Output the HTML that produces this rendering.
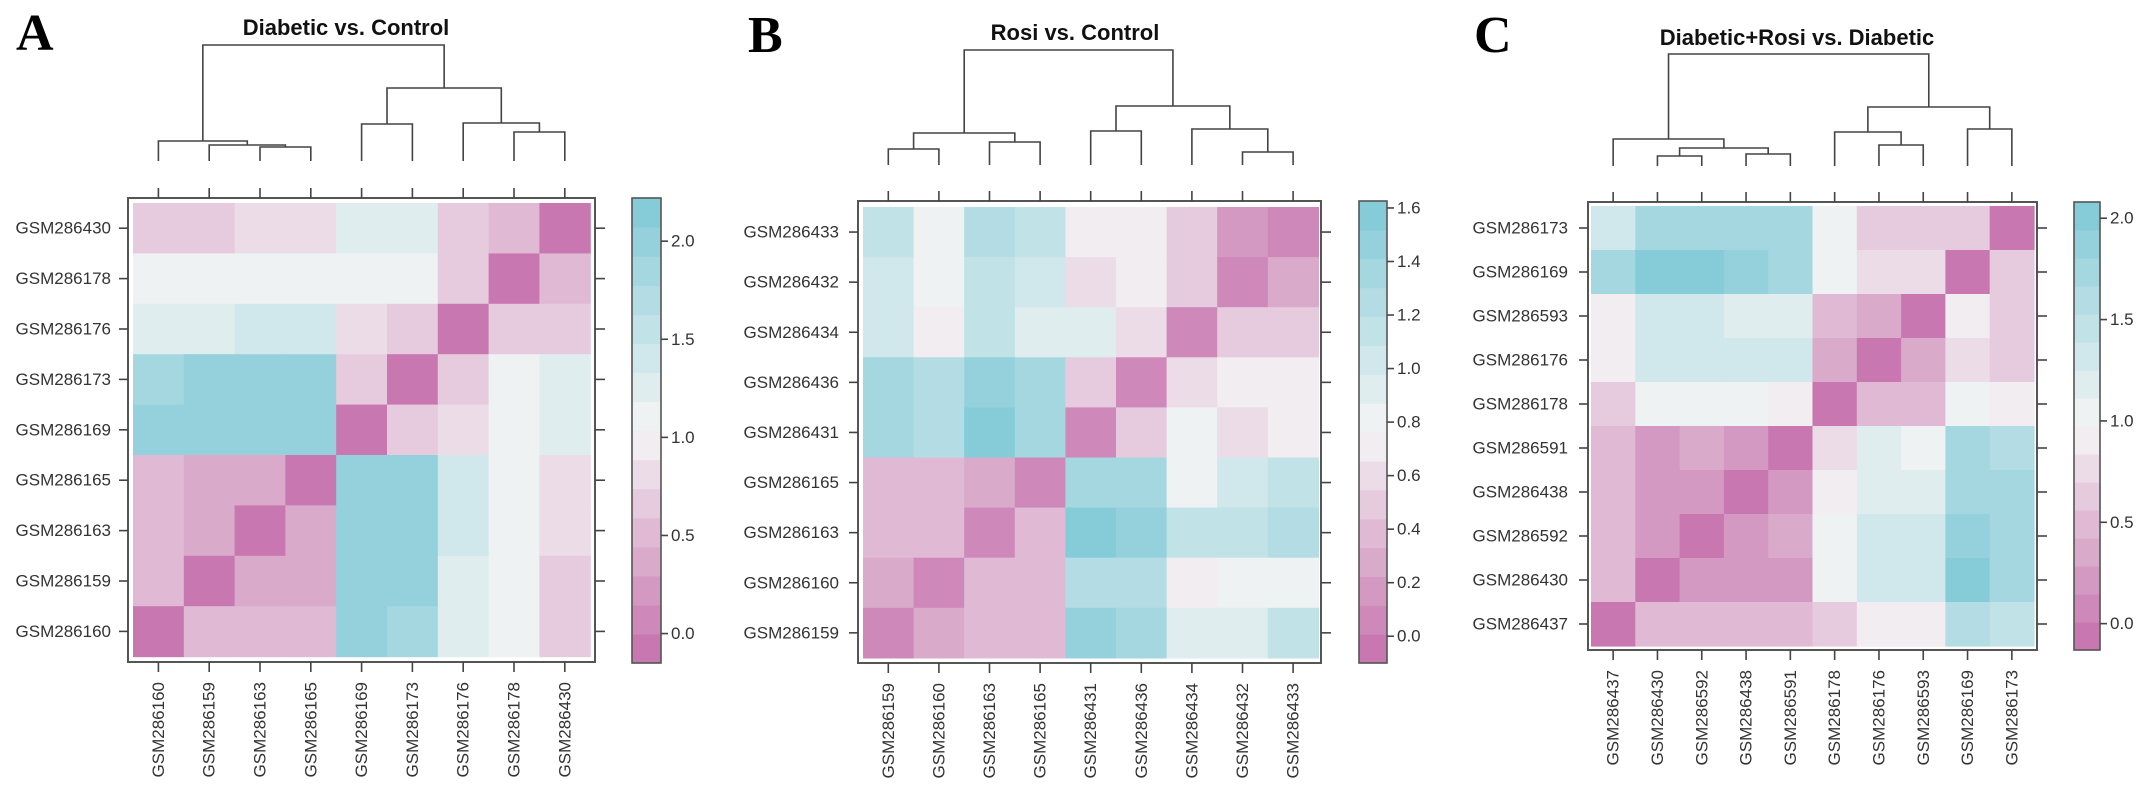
<!DOCTYPE html>
<html><head><meta charset="utf-8"><style>
html,body{margin:0;padding:0;background:#fff;}
svg{display:block;}
</style></head><body>
<svg id="fig" width="2150" height="792" viewBox="0 0 2150 792" xmlns="http://www.w3.org/2000/svg"></svg>
<script>
// ---------- Panel A data ----------
const rowsA = ["GSM286430","GSM286178","GSM286176","GSM286173","GSM286169","GSM286165","GSM286163","GSM286159","GSM286160"];
const colsA = ["GSM286160","GSM286159","GSM286163","GSM286165","GSM286169","GSM286173","GSM286176","GSM286178","GSM286430"];
const valuesA = [
 [0.65,0.65,0.8,0.8,1.3,1.3,0.65,0.5,-0.1],
 [1.05,1.15,1.15,1.15,1.1,1.1,0.65,-0.1,0.5],
 [1.3,1.3,1.4,1.4,0.85,0.65,-0.1,0.65,0.65],
 [1.9,1.95,1.95,1.95,0.65,-0.1,0.65,1.05,1.3],
 [1.95,1.95,1.95,2.05,-0.1,0.65,0.8,1.05,1.3],
 [0.45,0.35,0.35,-0.05,2.05,1.95,1.4,1.1,0.8],
 [0.45,0.35,-0.05,0.35,1.95,1.95,1.4,1.1,0.8],
 [0.45,-0.05,0.35,0.35,1.95,1.95,1.25,1.1,0.65],
 [-0.05,0.5,0.5,0.5,2.0,1.9,1.2,1.05,0.65]
];
const ticksA = [0,0.5,1,1.5,2];
const tickLabelsA = ["0.0","0.5","1.0","1.5","2.0"];
const mergesA = [[2,3,147],[1,"m0",145],[0,"m1",141],[4,5,124],[7,8,132],[6,"m4",123],["m3","m5",88],["m2","m6",45]];

// ---------- Panel B data ----------
const rowsB = ["GSM286433","GSM286432","GSM286434","GSM286436","GSM286431","GSM286165","GSM286163","GSM286160","GSM286159"];
const colsB = ["GSM286159","GSM286160","GSM286163","GSM286165","GSM286431","GSM286436","GSM286434","GSM286432","GSM286433"];
const valuesB = [
 [1.1,0.85,1.3,1.1,0.75,0.75,0.5,0.2,0.05],
 [1.0,0.85,1.15,1.0,0.6,0.75,0.5,0.05,0.25],
 [1.0,0.7,1.15,0.9,0.9,0.6,0.05,0.45,0.45],
 [1.4,1.25,1.45,1.35,0.45,0.05,0.6,0.75,0.75],
 [1.4,1.3,1.55,1.4,0.05,0.45,0.85,0.6,0.75],
 [0.35,0.35,0.3,0.05,1.4,1.4,0.85,1.0,1.1],
 [0.35,0.4,0.05,0.35,1.55,1.5,1.1,1.1,1.2],
 [0.25,0.05,0.4,0.4,1.25,1.2,0.7,0.8,0.8],
 [0.05,0.3,0.35,0.35,1.45,1.4,0.95,0.95,1.1]
];
const ticksB = [0,0.2,0.4,0.6,0.8,1.0,1.2,1.4,1.6];
const tickLabelsB = ["0.0","0.2","0.4","0.6","0.8","1.0","1.2","1.4","1.6"];
const mergesB = [[0,1,149],[2,3,142],["m0","m1",133],[4,5,131],[7,8,152],[6,"m4",129],["m3","m5",106],["m2","m6",50]];

// ---------- Panel C data ----------
const rowsC = ["GSM286173","GSM286169","GSM286593","GSM286176","GSM286178","GSM286591","GSM286438","GSM286592","GSM286430","GSM286437"];
const colsC = ["GSM286437","GSM286430","GSM286592","GSM286438","GSM286591","GSM286178","GSM286176","GSM286593","GSM286169","GSM286173"];
const valuesC = [
 [1.35,1.8,1.8,1.75,1.7,1.0,0.65,0.65,0.65,-0.05],
 [1.7,1.95,1.95,1.9,1.8,1.1,0.8,0.8,-0.05,0.65],
 [0.9,1.35,1.35,1.25,1.15,0.5,0.35,-0.05,0.85,0.65],
 [0.9,1.35,1.35,1.3,1.3,0.4,-0.05,0.35,0.8,0.6],
 [0.65,1.1,1.1,1.05,0.85,-0.05,0.45,0.55,1.1,0.95],
 [0.5,0.25,0.35,0.25,0.0,0.8,1.2,1.05,1.75,1.6],
 [0.5,0.25,0.25,0.0,0.25,0.95,1.2,1.2,1.8,1.7],
 [0.5,0.25,0.0,0.25,0.35,1.0,1.35,1.35,1.9,1.75],
 [0.5,0.0,0.25,0.25,0.25,1.0,1.35,1.35,1.95,1.8],
 [-0.05,0.5,0.5,0.5,0.5,0.6,0.9,0.9,1.65,1.4]
];
const ticksC = [0,0.5,1,1.5,2];
const tickLabelsC = ["0.0","0.5","1.0","1.5","2.0"];
const mergesC = [[1,2,156],[3,4,154],["m0","m1",148],[0,"m2",139],[6,7,145],[5,"m4",132],[8,9,129],["m5","m6",107],["m3","m7",54]];

const NS = "http://www.w3.org/2000/svg";
const svg = document.getElementById("fig");
function mk(tag, attrs, parent){
  const e = document.createElementNS(NS, tag);
  for (const k in attrs) e.setAttribute(k, attrs[k]);
  (parent || svg).appendChild(e);
  return e;
}
const LOW=[197,111,171], MID=[245,245,245], HIGH=[127,201,214];
function cmap(t){
  t = Math.max(0, Math.min(1, t));
  t = (Math.floor(t*16)+0.5)/16;
  let a,b,u;
  if (t<0.5){a=LOW;b=MID;u=t/0.5;} else {a=MID;b=HIGH;u=(t-0.5)/0.5;}
  const c=[0,1,2].map(i=>Math.round(a[i]+(b[i]-a[i])*u));
  return "rgb("+c.join(",")+")";
}

function drawPanel(p){
  const g = mk("g", {});
  
  
  const n = p.rows.length;
  const xScale = j => p.cx0 + p.cw*j;
  const yScale = i => p.cy0 + p.ch*i;
  const tScale = v => (v - p.vmin)/(p.vmax - p.vmin);
  const L = mk("text", {x:p.letterX, y:p.letterY, "font-family":"Liberation Serif, serif", "font-weight":"bold", "font-size":"52", fill:"#000"}, g);
  
  
  L.textContent = p.letter;
  const T = mk("text", {x:p.titleX, y:p.titleY, "text-anchor":"middle", "font-family":"Liberation Sans, sans-serif", "font-weight":"bold", "font-size":"22", fill:"#111"}, g);
  
  
  T.textContent = p.title;
  const cells = mk("g", {}, g);
  
  
  for (let i=0;i<n;i++) for (let j=0;j<n;j++){
    const r = mk("rect", {x:xScale(j), y:yScale(i), width:p.cw+0.6, height:p.ch+0.6, fill:cmap(tScale(p.values[i][j]))}, cells);
    
    
  }
  const box = mk("rect", {x:p.bx0, y:p.by0, width:p.bx1-p.bx0, height:p.by1-p.by0, fill:"none", stroke:"#555", "stroke-width":"2"}, g);
  
  
  for (let j=0;j<n;j++){
    const cx = xScale(j)+p.cw/2;
    mk("line",{x1:cx,y1:p.by1,x2:cx,y2:p.by1+10,stroke:"#444","stroke-width":"1.6"},g);
    mk("line",{x1:cx,y1:p.by0-10,x2:cx,y2:p.by0,stroke:"#444","stroke-width":"1.6"},g);
    const t = mk("text",{x:0,y:0,transform:"translate("+cx+","+p.colLabTop+") rotate(-90)","text-anchor":"end","dominant-baseline":"central","font-family":"Liberation Sans, sans-serif","font-size":"17",fill:"#333"},g);
    
    
    t.textContent = p.cols[j];
  }
  for (let i=0;i<n;i++){
    const cy = yScale(i)+p.ch/2;
    mk("line",{x1:p.bx0-9,y1:cy,x2:p.bx0,y2:cy,stroke:"#444","stroke-width":"1.6"},g);
    mk("line",{x1:p.bx1,y1:cy,x2:p.bx1+10,y2:cy,stroke:"#444","stroke-width":"1.6"},g);
    const t = mk("text",{x:p.rowLabRight,y:cy,"text-anchor":"end","dominant-baseline":"central","font-family":"Liberation Sans, sans-serif","font-size":"17",fill:"#333"},g);
    
    
    t.textContent = p.rows[i];
  }
  const dg = mk("g", {}, g);
  
  
  const nodes = {};
  const pos = k => (typeof k === "number") ? {x:xScale(k)+p.cw/2, y:p.leafY} : nodes[k];
  p.merges.forEach((m, idx)=>{
    const a = pos(m[0]), b = pos(m[1]), y = m[2];
    mk("path",{d:"M"+a.x+","+a.y+"V"+y+"H"+b.x+"V"+b.y, fill:"none", stroke:"#444","stroke-width":"1.6"}, dg);
    nodes["m"+idx] = {x:(a.x+b.x)/2, y:y};
  });
  const cb = mk("g", {}, g);
  
  
  const H = p.cby1 - p.cby0, nb = 16;
  for (let k=0;k<nb;k++){
    const y0 = p.cby1 - H*(k+1)/nb;
    mk("rect",{x:p.cbx0,y:y0,width:p.cbx1-p.cbx0,height:H/nb+0.6,fill:cmap((k+0.5)/nb)},cb);
  }
  mk("rect",{x:p.cbx0,y:p.cby0,width:p.cbx1-p.cbx0,height:H,fill:"none",stroke:"#555","stroke-width":"1.6"},cb);
  p.ticks.forEach((v,k)=>{
    const y = p.cby1 - tScale(v)*H;
    mk("line",{x1:p.cbx1,y1:y,x2:p.cbx1+7,y2:y,stroke:"#444","stroke-width":"1.6"},cb);
    const t = mk("text",{x:p.cbx1+10,y:y,"dominant-baseline":"central","font-family":"Liberation Sans, sans-serif","font-size":"17",fill:"#333"},cb);
    
    
    t.textContent = p.tickLabels[k];
  });
}

drawPanel({id:"a", letter:"A", letterX:16, letterY:50, title:"Diabetic vs. Control", titleX:346, titleY:35,
  rows:rowsA, cols:colsA, values:valuesA, ticks:ticksA, tickLabels:tickLabelsA, merges:mergesA,
  cx0:133, cw:50.8, cy0:203, ch:50.4, bx0:128, by0:198, bx1:595, by1:662, rowLabRight:111, colLabTop:682, leafY:161,
  cbx0:632, cbx1:661, cby0:198, cby1:663, vmin:-0.15, vmax:2.22});
drawPanel({id:"b", letter:"B", letterX:748, letterY:52, title:"Rosi vs. Control", titleX:1075, titleY:40,
  rows:rowsB, cols:colsB, values:valuesB, ticks:ticksB, tickLabels:tickLabelsB, merges:mergesB,
  cx0:863, cw:50.6, cy0:207, ch:50.1, bx0:858, by0:201, bx1:1321, by1:663, rowLabRight:839, colLabTop:683, leafY:165,
  cbx0:1359, cbx1:1387, cby0:201, cby1:663, vmin:-0.1, vmax:1.626});
drawPanel({id:"c", letter:"C", letterX:1474, letterY:52, title:"Diabetic+Rosi vs. Diabetic", titleX:1797, titleY:45,
  rows:rowsC, cols:colsC, values:valuesC, ticks:ticksC, tickLabels:tickLabelsC, merges:mergesC,
  cx0:1591, cw:44.3, cy0:206, ch:44, bx0:1588, by0:202, bx1:2037, by1:650, rowLabRight:1568, colLabTop:670, leafY:166,
  cbx0:2074, cbx1:2100, cby0:202, cby1:650, vmin:-0.13, vmax:2.08});
</script>
</body></html>
